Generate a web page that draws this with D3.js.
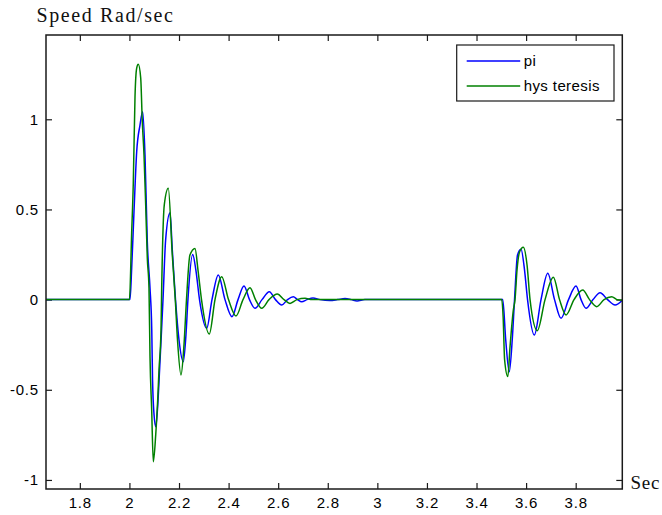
<!DOCTYPE html>
<html>
<head>
<meta charset="utf-8">
<script src="https://cdn.jsdelivr.net/npm/d3@7"></script>
<style>
  html, body { margin: 0; padding: 0; background: #fff; }
  svg { display: block; }
  .tick-label { font-family: "Liberation Sans", Arial, sans-serif; font-size: 15px; letter-spacing: 0.8px; fill: #000; }
  .serif { font-family: "Liberation Serif", "Times New Roman", serif; fill: #111; }
</style>
</head>
<body>
<svg id="chart" width="662" height="515"></svg>
<script>
// Rotor speed response (rad/s) of the PI and hysteresis controllers
const piTime = [1.6635, 2.0023, 2.0091, 2.0184, 2.0293, 2.0426, 2.0535, 2.0628, 2.0721, 2.0830,
  2.0901, 2.0933, 2.0994, 2.1062, 2.1143, 2.1216, 2.1296, 2.1354, 2.1460, 2.1637, 2.1730, 2.1858,
  2.2000, 2.2173, 2.2280, 2.2360, 2.2551, 2.2680, 2.2827, 2.3117, 2.3330, 2.3585, 2.3855, 2.4137,
  2.4380, 2.4622, 2.4843, 2.5065, 2.5348, 2.5642, 2.5892, 2.6142, 2.6376, 2.6610, 2.6780, 2.6949,
  2.7163, 2.7405, 2.7690, 2.8090, 2.8400, 2.8696, 2.8950, 2.9180, 2.9500,
  3.5057, 3.5178, 3.5320, 3.5440, 3.5533, 3.5654, 3.5795, 3.5937, 3.6058, 3.6332, 3.6602, 3.6873,
  3.7147, 3.7409, 3.7712, 3.8014, 3.8216, 3.8418, 3.8700, 3.8982, 3.9285, 3.9588, 3.9880];
const piSpeed = [0, 0, 0.175, 0.487, 0.820, 0.968, 1.042, 0.802, 0.321, 0.064,
  -0.169, -0.446, -0.640, -0.705, -0.584, -0.390, -0.168, 0, 0.330, 0.482, 0.275, 0,
  -0.224, -0.344, -0.196, 0, 0.250, 0.164, 0, -0.159, 0, 0.137, 0, -0.095,
  0, 0.075, 0, -0.048, 0, 0.044, 0, -0.030, 0, 0.016, 0, -0.012,
  0, 0.009, 0, -0.005, 0, 0.006, 0, -0.007, 0,
  0, -0.224, -0.400, -0.224, 0, 0.247, 0.279, 0.164, 0, -0.196, 0, 0.146,
  0, -0.104, 0, 0.075, 0, -0.048, 0, 0.038, 0, -0.030, -0.003];

const hysTime = [1.6635, 2.0000, 2.0090, 2.0156, 2.0225, 2.0293, 2.0358, 2.0455, 2.0519, 2.0588,
  2.0656, 2.0721, 2.0789, 2.0830, 2.0898, 2.0963, 2.1060, 2.1140, 2.1193, 2.1274, 2.1300, 2.1406,
  2.1568, 2.1729, 2.1850, 2.1939, 2.2080, 2.2201, 2.2302, 2.2440, 2.2645, 2.2766, 2.2907, 2.3222,
  2.3452, 2.3722, 2.3996, 2.4299, 2.4581, 2.4864, 2.5085, 2.5336, 2.5630, 2.5965, 2.6235, 2.6477,
  2.6760, 2.7082, 2.7365, 2.7700,
  3.5017, 3.5073, 3.5134, 3.5262, 3.5352, 3.5485, 3.5553, 3.5634, 3.5735, 3.5888, 3.6038, 3.6159,
  3.6453, 3.6764, 3.7099, 3.7349, 3.7611, 3.7933, 3.8284, 3.8559, 3.8849, 3.9144, 3.9454, 3.9668, 3.9880];
const hysSpeed = [0, 0, 0.369, 0.647, 1.125, 1.284, 1.305, 1.229, 0.986, 0.802,
  0.525, 0.231, 0.064, -0.317, -0.612, -0.899, -0.751, -0.557, -0.390, -0.168, 0.053, 0.525,
  0.617, 0.247, 0, -0.224, -0.418, -0.251, 0, 0.247, 0.284, 0.164, 0, -0.191,
  0, 0.127, 0, -0.091, 0, 0.066, 0, -0.048, 0, 0.031, 0, -0.021,
  0, 0.007, 0, 0,
  0, -0.095, -0.335, -0.427, -0.261, -0.058, 0, 0.164, 0.264, 0.290, 0.192, 0,
  -0.172, 0, 0.124, 0, -0.085, 0, 0.053, 0, -0.039, 0, 0.016, 0, -0.003];

const xTicks = [1.8, 2, 2.2, 2.4, 2.6, 2.8, 3, 3.2, 3.4, 3.6, 3.8];
const xTickLabels = ["1.8", "2", "2.2", "2.4", "2.6", "2.8", "3", "3.2", "3.4", "3.6", "3.8"];
const yTicks = [-1, -0.5, 0, 0.5, 1];
const yTickLabels = ["-1", "-0.5", "0", "0.5", "1"];

const seriesNames = ["pi", "hys teresis"];
const seriesColors = ["#0000ff", "#008000"];

const svg = d3.select("#chart");
const box = { left: 46, right: 622.3, top: 35, bottom: 489 };

const x = d3.scaleLinear().domain([1.6635, 3.988]).range([box.left, box.right]);
const y = d3.scaleLinear().domain([-1.0502, 1.4674]).range([box.bottom, box.top]);

svg.append("defs").append("clipPath").attr("id", "plotClip")
  .append("rect")
  .attr("x", box.left).attr("y", box.top)
  .attr("width", box.right - box.left).attr("height", box.bottom - box.top);

// Axes on all four sides, ticks pointing inward
const tickLen = 6;
const axisColor = "#1a1a1a";

const bottomAxis = d3.axisBottom(x).tickValues(xTicks)
  .tickFormat((d, i) => xTickLabels[i]).tickSizeInner(-tickLen).tickSizeOuter(0).tickPadding(8);
const topAxis = d3.axisTop(x).tickValues(xTicks).tickFormat("").tickSizeInner(-tickLen).tickSizeOuter(0);
const leftAxis = d3.axisLeft(y).tickValues(yTicks)
  .tickFormat((d, i) => yTickLabels[i]).tickSizeInner(-tickLen).tickSizeOuter(0).tickPadding(7);
const rightAxis = d3.axisRight(y).tickValues(yTicks).tickFormat("").tickSizeInner(-tickLen).tickSizeOuter(0);

function styleAxis(g) {
  g.select(".domain").remove();
  g.selectAll(".tick line").attr("stroke", axisColor).attr("stroke-width", 1.2);
  g.selectAll(".tick text").attr("class", "tick-label").attr("font-size", null).attr("font-family", null);
}

svg.append("g").attr("transform", `translate(0,${box.bottom})`).call(bottomAxis).call(styleAxis);
svg.append("g").attr("transform", `translate(0,${box.top})`).call(topAxis).call(styleAxis);
svg.append("g").attr("transform", `translate(${box.left},0)`).call(leftAxis).call(styleAxis);
svg.append("g").attr("transform", `translate(${box.right},0)`).call(rightAxis).call(styleAxis);

// Speed traces: PI first, hysteresis drawn over it
const plot = svg.append("g").attr("clip-path", "url(#plotClip)");
const line = d3.line().x(d => x(d[0])).y(d => y(d[1])).curve(d3.curveMonotoneX);

const series = [
  d3.zip(piTime, piSpeed),
  d3.zip(hysTime, hysSpeed)
];
series.forEach((pts, i) => {
  plot.append("path")
    .datum(pts)
    .attr("d", line)
    .attr("fill", "none")
    .attr("stroke", seriesColors[i])
    .attr("stroke-width", 1.5)
    .attr("stroke-linejoin", "round");
});

// Plot frame
svg.append("rect")
  .attr("x", box.left).attr("y", box.top)
  .attr("width", box.right - box.left).attr("height", box.bottom - box.top)
  .attr("fill", "none").attr("stroke", axisColor).attr("stroke-width", 1.5);

// Legend
const legend = svg.append("g").attr("transform", "translate(456.7,45)");
legend.append("rect")
  .attr("x", 0).attr("y", 0).attr("width", 157.3).attr("height", 56)
  .attr("fill", "#fff").attr("stroke", axisColor).attr("stroke-width", 1.2);
seriesNames.forEach((name, i) => {
  const ly = 16 + i * 25;
  legend.append("line")
    .attr("x1", 10).attr("x2", 63.5).attr("y1", ly).attr("y2", ly)
    .attr("stroke", seriesColors[i]).attr("stroke-width", 1.5);
  legend.append("text")
    .attr("class", "tick-label")
    .attr("x", 67).attr("y", ly + 5)
    .style("letter-spacing", "0.4px")
    .text(name);
});

// Axis titles
svg.append("text").attr("class", "serif")
  .attr("x", 36.5).attr("y", 22)
  .attr("font-size", 20).style("letter-spacing", "1.6px")
  .text("Speed Rad/sec");
svg.append("text").attr("class", "serif")
  .attr("x", 630.5).attr("y", 489)
  .attr("font-size", 19).style("letter-spacing", "0.8px")
  .text("Sec");
</script>
</body>
</html>
